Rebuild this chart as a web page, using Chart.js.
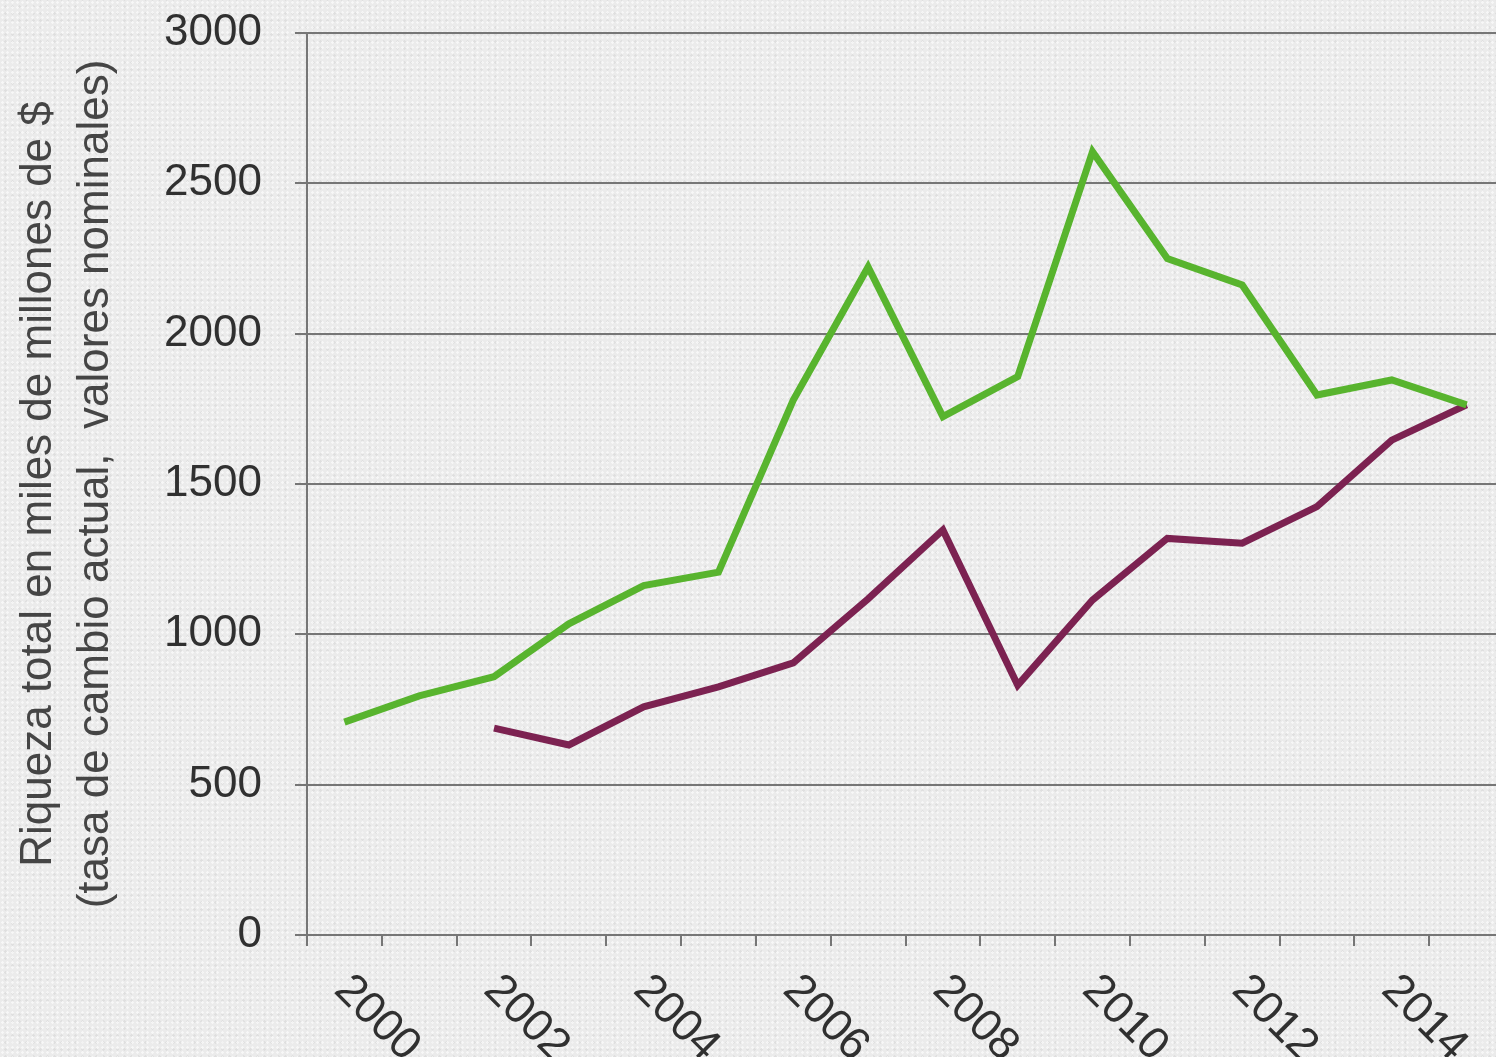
<!DOCTYPE html>
<html>
<head>
<meta charset="utf-8">
<script src="https://cdn.jsdelivr.net/npm/chart.js@4/dist/chart.umd.min.js"></script>
<style>
  html, body { margin:0; padding:0; overflow:hidden; width:1496px; height:1057px; }
  body {
    background-color:#ebebeb;
    background-image:
      radial-gradient(rgba(255,255,255,0.6) 1px, transparent 1.5px),
      radial-gradient(rgba(0,0,0,0.05) 1px, transparent 1.5px);
    background-size:5px 5px, 7px 7px;
    background-position:0 0, 2px 3px;
  }
  #wrap { position:absolute; left:0; top:0; width:1504px; height:1057px; }
</style>
</head>
<body>
<div id="wrap"><canvas id="c" width="1504" height="1057"></canvas></div>
<script>
// ---- data ----
const years = ['2000','2001','2002','2003','2004','2005','2006','2007','2008','2009','2010','2011','2012','2013','2014','2015'];
const seriesGreen  = [708, 795, 859, 1035, 1162, 1207, 1779, 2222, 1724, 1857, 2605, 2250, 2162, 1796, 1846, 1763];
const seriesMaroon = [null, null, 688, 632, 759, 825, 905, 1118, 1347, 831, 1114, 1319, 1303, 1425, 1646, 1763];
const yTickValues = [0, 500, 1000, 1500, 2000, 2500, 3000];
const xTickLabels = ['2000','2002','2004','2006','2008','2010','2012','2014'];
const yTitle = ['Riqueza total en miles de millones de $', '(tasa de cambio actual,  valores nominales)'];

const FONT = '"Liberation Sans", Arial, sans-serif';
const GRID = '#767676';

const xLabelPlugin = {
  id: 'xLabels',
  afterDraw(chart) {
    const xs = chart.scales.x;
    const ctx = chart.ctx;
    ctx.save();
    ctx.font = '45px ' + FONT;
    ctx.fillStyle = '#303030';
    ctx.textAlign = 'left';
    ctx.textBaseline = 'middle';
    years.forEach((y, i) => {
      if (!xTickLabels.includes(y)) return;
      const px = xs.getPixelForValue(i);
      ctx.save();
      ctx.translate(px - 3, xs.top + 48);
      ctx.rotate(Math.PI / 4);
      ctx.fillText(y, 0, 0);
      ctx.restore();
    });
    ctx.restore();
  }
};

new Chart(document.getElementById('c'), {
  type: 'line',
  data: {
    labels: years,
    datasets: [
      { data: seriesGreen, borderColor: '#58b42e', borderWidth: 7, pointRadius: 0, tension: 0, spanGaps: false },
      { data: seriesMaroon, borderColor: '#7c2251', borderWidth: 7, pointRadius: 0, tension: 0, spanGaps: false }
    ]
  },
  options: {
    responsive: false,
    animation: false,
    layout: { padding: { top: 33, left: 0, right: 0, bottom: 0 } },
    plugins: { legend: { display: false }, tooltip: { enabled: false } },
    scales: {
      x: {
        type: 'category',
        offset: true,
        grid: { offset: true, drawOnChartArea: false, drawTicks: true, tickLength: 11, color: GRID, lineWidth: 2 },
        border: { display: true, color: GRID, width: 2 },
        ticks: { display: false },
        afterFit(s) { s.height = 122; s.paddingLeft = 0; s.paddingRight = 0; }
      },
      y: {
        min: 0, max: 3000,
        afterBuildTicks(s) { s.ticks = yTickValues.map(v => ({ value: v })); },
        grid: { color: GRID, lineWidth: 2, drawTicks: true, tickLength: 12 },
        border: { display: true, color: GRID, width: 2 },
        ticks: {
          font: { family: FONT, size: 44 },
          color: '#303030',
          padding: 33,
          callback: v => String(v)
        },
        title: {
          display: true,
          text: yTitle,
          font: { family: FONT, size: 44, lineHeight: 1.3 },
          color: '#454545',
          padding: { top: 10, bottom: 0 }
        },
        afterFit(s) { s.width = 307; s.paddingTop = 0; s.paddingBottom = 0; }
      }
    }
  },
  plugins: [xLabelPlugin]
});
</script>
</body>
</html>
